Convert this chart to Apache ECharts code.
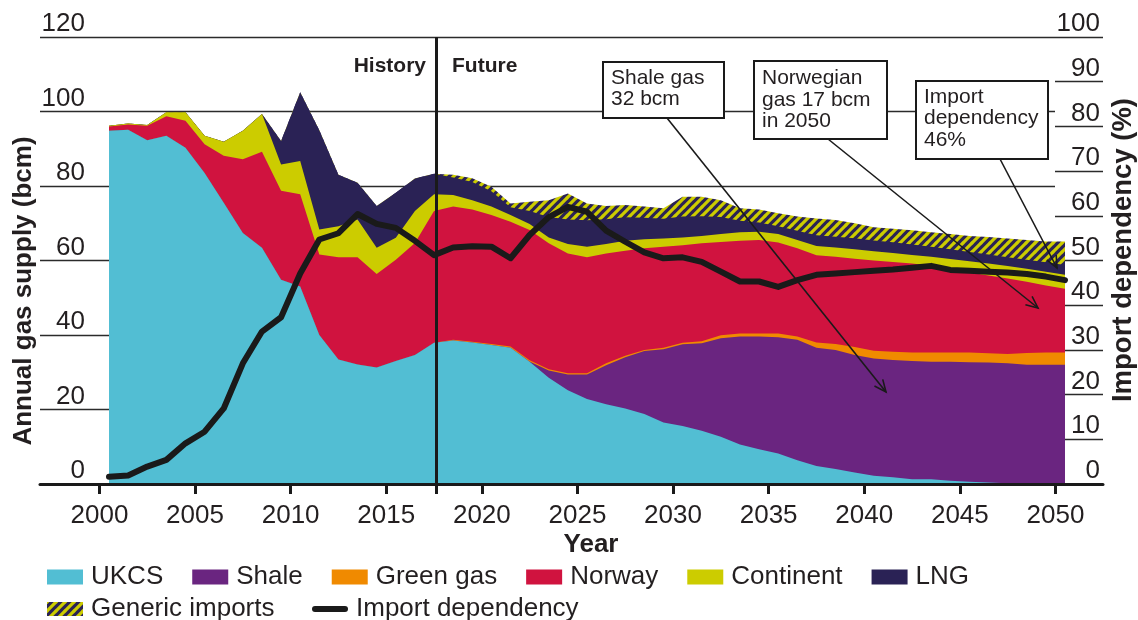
<!DOCTYPE html>
<html>
<head>
<meta charset="utf-8">
<title>UK gas supply</title>
<script src="https://cdn.jsdelivr.net/npm/echarts@6.0.0/dist/echarts.min.js"></script>
<style>
html, body { margin: 0; padding: 0; background: #fff; }
#main { width: 1138px; height: 620px; }
</style>
</head>
<body>
<div id="main"></div>
<script>
var years = [2000, 2001, 2002, 2003, 2004, 2005, 2006, 2007, 2008, 2009,
    2010, 2011, 2012, 2013, 2014, 2015, 2016, 2017, 2018, 2019,
    2020, 2021, 2022, 2023, 2024, 2025, 2026, 2027, 2028, 2029,
    2030, 2031, 2032, 2033, 2034, 2035, 2036, 2037, 2038, 2039,
    2040, 2041, 2042, 2043, 2044, 2045, 2046, 2047, 2048, 2049, 2050];
var tickYears = [2000, 2005, 2010, 2015, 2020, 2025, 2030, 2035, 2040, 2045, 2050];

// bcm per year
var ukcs = [94.8, 95.1, 92.3, 93.5, 90.3, 83.5, 75.5, 67.4, 63.4, 54.8,
    53.0, 40.0, 33.4, 32.1, 31.3, 33.0, 34.6, 37.9, 38.5, 38.0,
    37.3, 36.6, 32.8, 28.5, 25.2, 22.8, 21.4, 20.3, 18.8, 16.5,
    15.6, 14.3, 12.7, 10.6, 9.3, 8.2, 6.4, 4.8, 4.0, 3.1,
    2.2, 1.8, 1.3, 1.3, 0.9, 0.6, 0.4, 0.2, 0.1, 0, 0];
var shale = [0, 0, 0, 0, 0, 0, 0, 0, 0, 0,
    0, 0, 0, 0, 0, 0, 0, 0, 0, 0,
    0, 0, 0.1, 2.0, 4.2, 6.6, 10.5, 13.7, 16.9, 19.7,
    21.9, 23.5, 26.4, 29.0, 30.3, 31.2, 32.3, 31.8, 32.0, 31.5,
    31.5, 31.5, 31.7, 31.5, 31.9, 32.1, 32.2, 32.2, 31.9, 32.0, 32.0];
var greenGas = [0, 0, 0, 0, 0, 0, 0, 0, 0, 0,
    0, 0, 0, 0, 0, 0, 0, 0, 0.2, 0.2,
    0.3, 0.3, 0.3, 0.3, 0.3, 0.3, 0.5, 0.4, 0.3, 0.4,
    0.4, 0.5, 0.8, 0.8, 0.8, 1.0, 0.9, 1.4, 1.6, 2.2,
    2.1, 2.2, 2.3, 2.5, 2.5, 2.6, 2.5, 2.5, 3.2, 3.3, 3.3];
var norway = [1.2, 1.4, 3.9, 5.2, 7.2, 7.7, 12.6, 19.8, 25.8, 23.9,
    24.8, 21.6, 27.5, 28.8, 25.1, 27.2, 30.1, 35.4, 35.8, 35.5,
    34.6, 33.5, 35.0, 33.8, 32.2, 31.2, 29.5, 28.2, 27.3, 27.1,
    26.2, 26.3, 25.1, 24.9, 25.1, 24.4, 23.7, 23.4, 23.4, 23.7,
    24.2, 24.1, 23.9, 23.3, 22.5, 21.5, 20.9, 20.3, 19.1, 18.0, 17.1];
var continent = [0.2, 0.3, 0.2, 1.1, 2.3, 2.3, 3.8, 7.6, 10.1, 7.1,
    8.9, 6.7, 8.3, 10.1, 7.0, 5.9, 8.6, 4.5, 3.1, 2.5,
    2.3, 1.8, 1.6, 1.6, 2.5, 2.8, 2.5, 2.7, 2.4, 2.2,
    2.1, 2.0, 2.1, 2.3, 2.2, 2.3, 2.2, 2.5, 2.5, 2.5,
    2.5, 2.4, 2.3, 2.4, 2.6, 3.0, 3.2, 3.3, 3.5, 3.7, 3.8];
var lng = [0, 0, 0, 0, 0, 0, 0, 0, 0, 6.3,
    18.5, 26.7, 13.8, 9.9, 11.2, 12.1, 8.7, 5.5, 4.7, 4.9,
    4.1, 2.1, 3.5, 5.5, 6.6, 7.1, 6.7, 6.3, 5.8, 5.3,
    5.6, 5.3, 4.6, 3.1, 2.5, 2.1, 2.5, 2.9, 2.9, 3.0,
    2.9, 2.9, 2.8, 2.7, 2.6, 2.5, 2.4, 2.4, 2.4, 2.5, 2.6];
var genericImports = [0, 0, 0, 0, 0, 0, 0, 0, 0, 0,
    0, 0, 0, 0, 0, 0, 0, 0, 0.7, 1.0,
    1.2, 1.0, 2.5, 4.5, 7.0, 4.5, 3.5, 3.3, 3.0, 2.8,
    5.3, 5.2, 4.5, 3.3, 3.5, 3.5, 3.8, 4.5, 4.5, 4.0,
    3.5, 3.6, 3.8, 3.9, 4.1, 4.3, 4.7, 5.0, 5.3, 5.6, 6.3];
// %
var importDependency = [1.6, 1.9, 3.9, 5.4, 9.1, 11.7, 16.9, 27.0, 34.1, 37.3,
    47.1, 54.7, 56.1, 60.4, 58.2, 57.3, 54.4, 51.2, 52.9, 53.2,
    53.1, 50.5, 55.7, 59.7, 62.0, 60.9, 56.7, 54.2, 51.8, 50.5,
    50.7, 49.7, 47.5, 45.3, 45.3, 44.1, 45.6, 46.8, 47.1, 47.4,
    47.7, 48.0, 48.4, 48.8, 47.9, 47.7, 47.5, 47.3, 47.0, 46.4, 45.6];

var historyEnd = 2017.6;
var font = 'Liberation Sans';
var ink = '#231f20';

var myChart = echarts.init(document.getElementById('main'));

// navy / yellow diagonal hatch for generic imports
var hc = document.createElement('canvas');
hc.width = 9; hc.height = 9;
var ctx = hc.getContext('2d');
ctx.fillStyle = '#2a2255';
ctx.fillRect(0, 0, 9, 9);
ctx.strokeStyle = '#cccc00';
ctx.lineWidth = 3.2;
ctx.beginPath();
ctx.moveTo(-1, 10); ctx.lineTo(10, -1);
ctx.moveTo(-1, 1); ctx.lineTo(1, -1);
ctx.moveTo(8, 10); ctx.lineTo(10, 8);
ctx.stroke();
var hatch = { image: hc, repeat: 'repeat' };

// stack order bottom -> top; stacking done here, each layer filled down to 0
// and drawn top layer first so lower layers paint over it
var layers = [
    { name: 'UKCS', values: ukcs, color: '#52bed3' },
    { name: 'Shale', values: shale, color: '#6a2580' },
    { name: 'Green gas', values: greenGas, color: '#f08a00' },
    { name: 'Norway', values: norway, color: '#d0133f' },
    { name: 'Continent', values: continent, color: '#cccc00' },
    { name: 'LNG', values: lng, color: '#2a2255' },
    { name: 'Generic imports', values: genericImports, color: '#2a2255', fill: hatch }
];
var running = years.map(function () { return 0; });
var areaSeries = layers.map(function (l) {
    running = running.map(function (s, i) { return Math.round((s + l.values[i]) * 100) / 100; });
    return {
        name: l.name, type: 'line',
        xAxisIndex: 0, yAxisIndex: 0,
        data: years.map(function (y, i) { return [y + 0.5, running[i]]; }),
        showSymbol: false,
        color: l.color,
        lineStyle: { width: 0 },
        areaStyle: { color: l.fill || l.color, opacity: 1 }
    };
}).reverse();

function box(x, y, w, h, txt, tx, ty) {
    return [
        { type: 'rect', z: 100, shape: { x: x, y: y, width: w, height: h },
          style: { fill: '#fff', stroke: '#1a1a1a', lineWidth: 2 } },
        { type: 'text', z: 101, x: tx, y: ty,
          style: { text: txt, fontSize: 21, fontFamily: font, fill: ink, lineHeight: 21.5 } }
    ];
}

function arrow(x1, y1, x2, y2) {
    var a = Math.atan2(y2 - y1, x2 - x1), h = 13, s = 0.42;
    return [
        { type: 'line', z: 100, shape: { x1: x1, y1: y1, x2: x2, y2: y2 },
          style: { stroke: '#1a1a1a', lineWidth: 1.6 } },
        { type: 'polyline', z: 100,
          shape: { points: [[x2 - h * Math.cos(a - s), y2 - h * Math.sin(a - s)], [x2, y2],
                            [x2 - h * Math.cos(a + s), y2 - h * Math.sin(a + s)]] },
          style: { stroke: '#1a1a1a', lineWidth: 1.6, fill: null } }
    ];
}

var axisFont = { fontSize: 26, color: ink, fontFamily: font };
var gridLine = { lineStyle: { color: '#2b2b2b', width: 1.3 } };
var axisLine = { lineStyle: { color: '#1a1a1a', width: 3 } };
var legendText = { fontSize: 26, color: ink, fontFamily: font, padding: [0, 0, 0, 3] };

option = {
    animation: false,
    textStyle: { fontFamily: font },
    grid: [
        // data area (runs a little past 2050)
        { left: 40, top: 37, width: 1026, height: 447 },
        // right-hand % scale
        { left: 1055, top: 37, width: 48, height: 447 },
        // left-hand bcm gridlines
        { left: 40, top: 37, width: 1015, height: 447 }
    ],
    xAxis: [
        {
            gridIndex: 0, type: 'value', min: 1996.8912, max: 2050.5523, z: 5,
            axisLine: axisLine,
            axisTick: { customValues: tickYears.concat([historyEnd]), length: 10,
                lineStyle: { color: '#1a1a1a', width: 3 } },
            axisLabel: Object.assign({ customValues: tickYears, margin: 19,
                formatter: function (v) { return String(v); } }, axisFont),
            splitLine: { show: false }
        },
        {
            gridIndex: 1, type: 'value', min: 0, max: 1, z: 5,
            axisLine: axisLine,
            axisTick: { show: false }, axisLabel: { show: false }, splitLine: { show: false }
        },
        { gridIndex: 2, type: 'value', min: 0, max: 1, show: false }
    ],
    yAxis: [
        { gridIndex: 0, type: 'value', min: 0, max: 120, show: false, splitLine: { show: false } },
        { gridIndex: 0, type: 'value', min: 0, max: 100, show: false, splitLine: { show: false } },
        {
            gridIndex: 1, type: 'value', min: 0, max: 100, interval: 10, position: 'right',
            axisLine: { show: false }, axisTick: { show: false },
            axisLabel: Object.assign({ inside: true, align: 'right', margin: 3,
                verticalAlign: 'bottom', lineHeight: 26 }, axisFont),
            splitLine: gridLine
        },
        {
            gridIndex: 2, type: 'value', min: 0, max: 120, interval: 20, position: 'left',
            axisLine: { show: false }, axisTick: { show: false },
            axisLabel: Object.assign({ inside: true, align: 'right', margin: 45,
                verticalAlign: 'bottom', lineHeight: 26 }, axisFont),
            splitLine: gridLine
        }
    ],
    legend: [
        {
            data: ['UKCS', 'Shale', 'Green gas', 'Norway', 'Continent', 'LNG'],
            left: 42, top: 559, icon: 'rect', itemWidth: 36, itemHeight: 15, itemGap: 29,
            selectedMode: false, textStyle: legendText
        },
        {
            data: [{ name: 'Generic imports', itemStyle: { color: hatch } }],
            left: 42, top: 591, icon: 'rect', itemWidth: 36, itemHeight: 14,
            selectedMode: false, textStyle: legendText
        },
        {
            data: [{ name: 'Import dependency', icon: 'path://M3,0L33,0A3,3,0,0,1,33,6L3,6A3,3,0,0,1,3,0Z' }],
            left: 307, top: 591, itemWidth: 36, itemHeight: 7,
            selectedMode: false, textStyle: legendText
        }
    ],
    series: areaSeries.concat([
        {
            name: 'Import dependency', type: 'line',
            xAxisIndex: 0, yAxisIndex: 1, z: 4,
            data: years.map(function (y, i) { return [y + 0.5, importDependency[i]]; }),
            showSymbol: false,
            color: '#1a1a1a',
            lineStyle: { width: 6, color: '#1a1a1a', cap: 'round', join: 'round' },
            markLine: {
                silent: true, symbol: ['none', 'none'], label: { show: false },
                lineStyle: { color: '#1a1a1a', width: 3, type: 'solid' },
                data: [{ xAxis: historyEnd }]
            }
        }
    ]),
    graphic: [].concat(
        [
            { type: 'text', x: 24, y: 291, rotation: Math.PI / 2,
              style: { text: 'Annual gas supply (bcm)', fontSize: 26, fontWeight: 'bold', fontFamily: font,
                       fill: ink, textAlign: 'center', textVerticalAlign: 'middle' } },
            { type: 'text', x: 1123, y: 250, rotation: Math.PI / 2,
              style: { text: 'Import dependency (%)', fontSize: 27.5, fontWeight: 'bold', fontFamily: font,
                       fill: ink, textAlign: 'center', textVerticalAlign: 'middle' } },
            { type: 'text', x: 591, y: 545,
              style: { text: 'Year', fontSize: 26, fontWeight: 'bold', fontFamily: font,
                       fill: ink, textAlign: 'center', textVerticalAlign: 'middle' } },
            { type: 'text', x: 426, y: 66, z: 100,
              style: { text: 'History', fontSize: 21, fontWeight: 'bold', fontFamily: font,
                       fill: ink, textAlign: 'right', textVerticalAlign: 'middle' } },
            { type: 'text', x: 452, y: 66, z: 100,
              style: { text: 'Future', fontSize: 21, fontWeight: 'bold', fontFamily: font,
                       fill: ink, textAlign: 'left', textVerticalAlign: 'middle' } }
        ],
        arrow(667, 118, 886, 392),
        arrow(828, 139, 1038, 308),
        arrow(1000, 159, 1057, 268),
        box(603, 62, 121, 56, 'Shale gas\n32 bcm', 611, 67),
        box(754, 61, 133, 78, 'Norwegian\ngas 17 bcm\nin 2050', 762, 67.5),
        box(916, 81, 132, 78, 'Import\ndependency\n46%', 924, 86)
    )
};

myChart.setOption(option);
</script>
</body>
</html>
